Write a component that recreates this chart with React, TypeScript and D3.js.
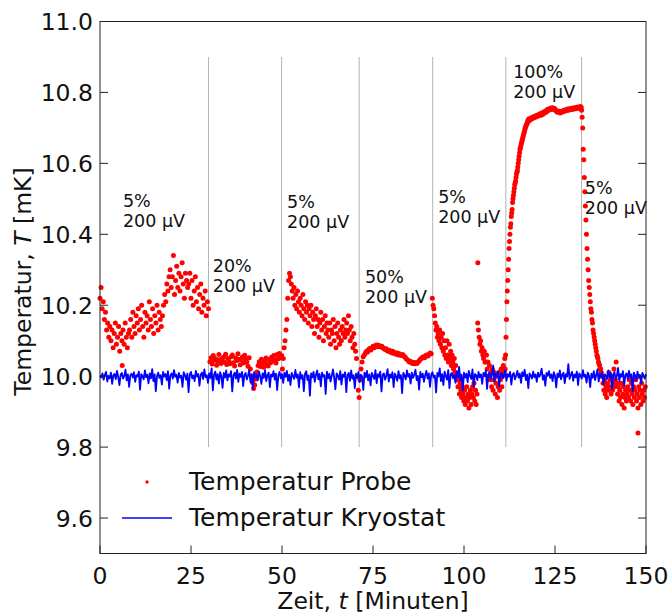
import React from 'react';
import * as d3 from 'd3';

// ---------- data ----------
const xTicks = [0, 25, 50, 75, 100, 125, 150];
const yTicks = [9.6, 9.8, 10.0, 10.2, 10.4, 10.6, 10.8, 11.0];
const xDomain = [0, 150];
const yDomain = [9.5, 11.0];

// switching times (minutes) of the heating phases
const phaseTimes = [29.8, 49.9, 71.2, 91.4, 111.5, 132.3];
const phaseLineRange = [9.8, 10.9];

// annotation labels: [time, temperature of first line, line1, line2]
const annotTimes = [6.3, 31.0, 51.4, 72.8, 92.9, 113.5, 133.2];
const annotTemps = [10.477, 10.294, 10.475, 10.263, 10.489, 10.842, 10.514];
const annotLine1 = ['5%', '20%', '5%', '50%', '5%', '100%', '5%'];
const annotLine2 = ['200 µV', '200 µV', '200 µV', '200 µV', '200 µV', '200 µV', '200 µV'];

// Probe temperature, segment time spans [start, end] (min), samples evenly spaced inside
const probeSpans = [
  [0, 29.8], [30.2, 49.9], [50.1, 71.2], [71.4, 91.0], [91.3, 111.2],
  [111.3, 117.9], [118.1, 132.2], [132.3, 137.85], [138.0, 149.8],
];
const probe1 = [
  10.22, 10.25, 10.19, 10.21,
  10.16, 10.18, 10.13, 10.15, 10.11, 10.14,
  10.10, 10.13, 10.08, 10.12, 10.15, 10.09, 10.11, 10.14, 10.07, 10.12, 10.10, 10.13, 10.09, 10.15, 10.11, 10.08, 10.12,
  10.13, 10.16, 10.11, 10.18, 10.14, 10.12, 10.17, 10.15, 10.19, 10.13, 10.16, 10.20, 10.14, 10.11, 10.18, 10.15, 10.17, 10.13, 10.21, 10.16, 10.14, 10.19, 10.12, 10.17, 10.15, 10.20, 10.13, 10.18, 10.16, 10.14,
  10.17, 10.20, 10.23, 10.21, 10.26, 10.24, 10.28,
  10.30, 10.25, 10.28, 10.34, 10.23, 10.27, 10.31, 10.25, 10.29, 10.24, 10.28, 10.32, 10.26, 10.22, 10.29, 10.27, 10.25,
  10.26, 10.29, 10.22, 10.27, 10.20, 10.24, 10.28, 10.21, 10.25, 10.19, 10.23, 10.26, 10.18, 10.22, 10.20, 10.24, 10.17, 10.21, 10.19,
];
const probe2 = [
  10.041, 10.052, 10.034, 10.058, 10.045, 10.049, 10.031, 10.043, 10.061, 10.047, 10.036, 10.044, 10.053, 10.039, 10.062, 10.033, 10.05, 10.042,
  10.035, 10.055, 10.06, 10.038, 10.029, 10.051, 10.044, 10.063, 10.048, 10.032, 10.046, 10.054, 10.037, 10.059, 10.047, 10.04, 10.028, 10.052,
  10.02, 10.0, 9.982, 9.965, 9.975, 9.992, 10.012,
  10.03, 10.041, 10.027, 10.048, 10.036, 10.025, 10.043, 10.051, 10.034, 10.029, 10.047, 10.038, 10.053, 10.042, 10.058, 10.046, 10.037, 10.061, 10.049, 10.064, 10.052, 10.058,
];
const probe3 = [
  10.02, 10.05, 10.08, 10.10, 10.13, 10.16, 10.22, 10.27,
  10.29, 10.28, 10.26, 10.24,
  10.22, 10.25, 10.20, 10.23, 10.19, 10.24, 10.21, 10.18, 10.22, 10.20, 10.17, 10.23, 10.19, 10.16, 10.21, 10.18, 10.20, 10.15, 10.19, 10.17,
  10.20, 10.14, 10.18, 10.16, 10.12, 10.17, 10.19, 10.14, 10.16, 10.11, 10.15, 10.18, 10.13, 10.16, 10.10, 10.14, 10.17, 10.12, 10.15, 10.13,
  10.11, 10.15, 10.09, 10.13, 10.12, 10.16, 10.10, 10.14, 10.08, 10.12, 10.15, 10.11, 10.09, 10.13, 10.10, 10.14, 10.12, 10.16, 10.11, 10.13,
  10.15, 10.12, 10.17, 10.13, 10.10, 10.14, 10.11, 10.08, 10.12, 10.09, 10.07, 10.05,
  10.00, 9.96, 9.94,
];
const probe4 = [
  9.99, 10.02, 10.04, 10.055,
  10.06, 10.065, 10.07, 10.068, 10.075, 10.078, 10.074, 10.08, 10.084, 10.08, 10.086, 10.088, 10.083, 10.087, 10.085, 10.082, 10.084, 10.08,
  10.078, 10.075, 10.077, 10.072, 10.07, 10.073, 10.068, 10.066, 10.07, 10.064, 10.066, 10.062, 10.065, 10.06, 10.063, 10.06, 10.058, 10.061, 10.056, 10.055,
  10.05, 10.047, 10.044, 10.04, 10.042, 10.038, 10.036, 10.039, 10.035, 10.038, 10.036, 10.04, 10.043,
  10.048, 10.05, 10.053, 10.055, 10.052, 10.058, 10.06, 10.057, 10.062, 10.065, 10.063,
];
const probe5 = [
  10.22, 10.20, 10.19, 10.17, 10.15, 10.13,
  10.14, 10.11, 10.12, 10.10, 10.13, 10.09, 10.11, 10.08, 10.12, 10.07, 10.10, 10.06,
  10.08, 10.05, 10.10, 10.06, 10.04, 10.09, 10.05, 10.07, 10.03, 10.06, 10.04, 10.02, 10.05, 10.01, 10.03, 9.99, 10.00, 9.97, 9.99, 9.95, 9.98, 9.96, 9.94, 9.97, 9.95,
  9.93, 9.96, 9.92, 9.94, 9.97, 9.93, 9.95, 9.91, 9.94, 9.96, 9.92, 9.95, 9.97, 9.94, 9.98,
  9.93, 9.96, 9.92, 9.95, 10.15,
  10.13, 10.11, 10.09, 10.10, 10.07, 10.08, 10.06, 10.05, 10.07, 10.04,
  10.04, 10.06, 10.02, 10.04, 10.00, 10.03, 9.99, 10.01, 9.97, 10.02, 9.96, 9.99, 10.01, 9.95, 9.98, 10.00, 9.94, 9.97, 10.01, 9.96, 9.99, 10.02, 9.97, 10.00, 10.03, 10.01, 10.05,
];
const probe6 = [
  10.02, 10.06, 10.11, 10.16, 10.21, 10.24, 10.27, 10.30, 10.33, 10.36, 10.38, 10.40, 10.42, 10.43, 10.45, 10.46,
  10.47, 10.49, 10.50, 10.51, 10.52, 10.53, 10.54, 10.545, 10.55, 10.56, 10.57, 10.575, 10.58, 10.59, 10.60, 10.61,
  10.62, 10.63, 10.64, 10.645, 10.65, 10.655, 10.66, 10.665, 10.67, 10.675, 10.68, 10.685, 10.69, 10.695, 10.70, 10.703,
  10.706, 10.71, 10.712, 10.715, 10.72, 10.722, 10.725, 10.72,
];
const probe7 = [
  10.722, 10.728, 10.725, 10.73, 10.728, 10.733, 10.73, 10.735,
  10.732, 10.737, 10.735, 10.74, 10.736, 10.742, 10.738, 10.745, 10.742, 10.748, 10.745, 10.752, 10.749, 10.754, 10.751, 10.756,
  10.753, 10.757, 10.752, 10.755, 10.75, 10.747, 10.744, 10.748, 10.745, 10.742, 10.746, 10.744, 10.748, 10.75, 10.747, 10.751,
  10.749, 10.753, 10.75, 10.754, 10.751, 10.755, 10.752, 10.756, 10.753, 10.757, 10.754, 10.758, 10.755, 10.759, 10.757, 10.76, 10.758,
];
const probe8 = [
  10.75, 10.73, 10.70, 10.64, 10.61, 10.56, 10.52, 10.48, 10.44, 10.40, 10.36, 10.33, 10.30, 10.27, 10.25, 10.23, 10.21, 10.19, 10.18,
  10.16, 10.15, 10.13, 10.12, 10.11, 10.10, 10.09, 10.08, 10.07, 10.06, 10.055, 10.05, 10.04, 10.035, 10.03, 10.02, 10.02, 10.01, 10.00,
];
const probe9 = [
  10.00, 9.98, 9.96, 9.99, 9.95, 9.97, 9.94, 9.98, 9.96, 10.01,
  9.97, 9.99, 9.95, 10.00, 9.96, 9.98, 10.02, 9.97, 9.99, 10.04,
  9.98, 9.95, 9.97, 9.93, 9.96, 9.94, 9.98, 9.92, 9.95, 9.97, 9.91, 9.94, 9.96, 9.93, 9.95,
  9.97, 9.94, 9.99, 9.96, 9.93, 9.98, 9.95, 9.92, 9.97, 9.94, 9.96, 9.99, 9.93, 9.95, 9.91, 9.97, 9.94, 9.96, 9.92, 9.98, 9.95, 9.93, 9.96, 9.94, 9.97,
];
const probeOutlierTimes = [6.1, 103.8, 147.8];
const probeOutlierTemps = [10.03, 10.32, 9.84];

// Kryostat temperature, sampled every 1/3 min from 0 to 150
const kryoSpan = [0, 150];
const kryo = [
  10.002, 9.996, 10.008, 9.990, 10.004, 10.012, 9.985, 10.001, 9.994, 10.010, 9.978, 10.003, 10.006, 9.992, 10.015,
  9.998, 9.975, 10.004, 10.009, 9.993, 10.001, 10.018, 9.988, 10.005, 9.970, 10.002, 10.007, 9.996, 10.011, 9.984,
  10.003, 9.999, 10.013, 9.962, 10.006, 10.000, 9.991, 10.016, 9.997, 10.004, 9.980, 10.008, 9.994, 10.020, 9.986,
  10.005, 9.958, 10.001, 10.010, 9.995, 10.003, 9.976, 10.012, 9.999, 10.006, 9.989, 10.014, 9.965, 10.002, 10.008,
  9.993, 10.017, 9.998, 10.004, 9.982, 10.009, 9.996, 10.001, 9.970, 10.011, 10.003, 9.990, 10.007, 9.955, 10.005,
  10.012, 9.994, 10.002, 9.986, 10.015, 9.999, 10.006, 9.973, 10.004, 10.010, 9.992, 10.019, 9.997, 10.003, 9.981,
  10.008, 9.995, 10.022, 9.960, 10.004, 10.013, 9.990, 10.006, 9.979, 10.011, 10.001, 9.967, 10.009, 9.996, 10.016,
  9.988, 10.005, 9.999, 10.014, 9.957, 10.003, 10.010, 9.993, 10.018, 9.984, 10.007, 9.998, 10.012, 9.972, 10.004,
  10.009, 9.991, 10.002, 10.016, 9.983, 10.006, 9.964, 10.011, 9.997, 10.004, 9.988, 10.013, 10.000, 9.978, 10.008,
  9.995, 10.017, 9.986, 10.003, 10.010, 9.969, 10.005, 9.999, 10.014, 9.990, 10.007, 9.961, 10.002, 10.012, 9.994,
  10.006, 9.981, 10.010, 9.998, 10.015, 9.987, 10.004, 9.975, 10.009, 10.001, 9.992, 10.018, 9.996, 10.005, 9.968,
  10.011, 9.993, 10.003, 9.958, 10.007, 10.014, 9.989, 10.002, 9.945, 10.008, 9.997, 10.012, 9.984, 10.004, 10.016,
  9.991, 10.006, 9.971, 10.010, 9.999, 10.003, 9.950, 10.013, 9.994, 10.007, 9.985, 10.001, 10.019, 9.996, 9.963,
  10.008, 10.002, 9.990, 10.014, 9.976, 10.005, 9.998, 10.011, 9.955, 10.004, 10.009, 9.987, 10.016, 9.993, 10.003,
  9.966, 10.007, 9.995, 10.012, 9.983, 10.004, 10.000, 9.961, 10.010, 9.997, 10.015, 9.988, 10.005, 9.974, 10.009,
  10.001, 9.992, 10.017, 9.980, 10.006, 9.998, 10.013, 9.957, 10.004, 10.008, 9.990, 10.002, 10.020, 9.985, 10.005,
  9.996, 10.011, 9.969, 10.007, 10.000, 9.987, 10.014, 9.994, 10.003, 9.952, 10.009, 10.002, 9.991, 10.016, 9.998,
  10.006, 9.979, 10.010, 9.995, 10.004, 10.018, 9.989, 10.001, 9.962, 10.012, 9.997, 10.007, 9.984, 10.003, 10.015,
  9.993, 10.008, 9.970, 10.004, 10.011, 9.996, 10.002, 9.954, 10.009, 9.999, 10.022, 9.986, 10.006, 9.975, 10.013,
  10.001, 9.990, 10.017, 9.966, 10.005, 10.009, 9.994, 10.003, 9.981, 10.014, 9.998, 10.026, 9.988, 10.004, 9.960,
  10.010, 9.996, 10.007, 9.983, 10.015, 10.001, 9.992, 10.019, 9.970, 10.006, 10.003, 9.989, 10.012, 9.997, 10.005,
  9.978, 10.009, 10.000, 10.016, 9.964, 10.004, 10.011, 9.993, 10.002, 10.030, 9.985, 10.007, 9.998, 10.013, 9.972,
  10.005, 10.010, 9.994, 10.003, 10.017, 9.987, 10.006, 9.999, 10.012, 9.976, 10.004, 10.009, 9.991, 10.002, 10.015,
  9.996, 10.007, 9.981, 10.011, 10.000, 10.018, 9.989, 10.004, 9.966, 10.008, 10.002, 9.993, 10.013, 9.997, 10.005,
  9.984, 10.010, 9.998, 10.006, 10.021, 9.990, 10.003, 9.973, 10.009, 10.001, 10.014, 9.995, 10.005, 9.986, 10.011,
  10.002, 9.968, 10.007, 9.997, 10.016, 9.991, 10.004, 10.010, 9.980, 10.006, 9.999, 10.034, 9.992, 10.003, 10.012,
  9.987, 10.005, 9.997, 10.013, 9.975, 10.008, 10.002, 9.993, 10.017, 9.998, 10.004, 9.982, 10.010, 10.001, 9.969,
  10.007, 9.995, 10.014, 9.989, 10.003, 10.019, 9.985, 10.006, 9.998, 10.011, 9.977, 10.005, 10.002, 9.992, 10.016,
  9.996, 10.009, 9.963, 10.004, 10.012, 9.990, 10.001, 10.023, 9.986, 10.006, 9.999, 10.014, 9.974, 10.003, 10.008,
  9.992, 10.015, 9.997, 10.005, 9.958, 10.010, 10.002, 9.988, 10.013, 9.995, 10.004, 9.979, 10.009, 10.001, 9.993,
  10.006,
];

const legendLabels = ['Temperatur Probe', 'Temperatur Kryostat'];

// ---------- layout ----------
const W = 668;
const H = 615;
const M = { left: 100, right: 22, top: 21.5, bottom: 61.5 };
const FONT = '"DejaVu Sans", sans-serif';
const TXT = '#111';

function spread(span: number[], values: number[]) {
  const n = values.length;
  const dt = n > 1 ? (span[1] - span[0]) / (n - 1) : 0;
  return values.map((v, i) => ({ t: span[0] + i * dt, v }));
}

export default function App() {
  const x = d3.scaleLinear().domain(xDomain).range([M.left, W - M.right]);
  const y = d3.scaleLinear().domain(yDomain).range([H - M.bottom, M.top]);

  const probeSegs = [probe1, probe2, probe3, probe4, probe5, probe6, probe7, probe8, probe9];
  const probePts = probeSegs.flatMap((vals, i) => spread(probeSpans[i], vals));
  probeOutlierTimes.forEach((t, i) => probePts.push({ t, v: probeOutlierTemps[i] }));

  const kryoPts = spread(kryoSpan, kryo);
  const line = d3.line<{ t: number; v: number }>().x((d) => x(d.t)).y((d) => y(d.v));

  const x0 = x(xDomain[0]);
  const x1 = x(xDomain[1]);
  const y0 = y(yDomain[0]);
  const y1 = y(yDomain[1]);
  const tickLen = 8;

  return (
    <svg width={W} height={H} style={{ position: 'absolute', left: 0, top: 0, background: '#fff' }} fontFamily={FONT}>
      <rect x={0} y={0} width={W} height={H} fill="#fff" />
      {/* phase lines */}
      {phaseTimes.map((t, i) => (
        <line key={'p' + i} x1={x(t)} x2={x(t)} y1={y(phaseLineRange[0])} y2={y(phaseLineRange[1])} stroke="#b3b3b3" strokeWidth={1} />
      ))}
      {/* probe dots */}
      <g fill="#ff0000">
        {probePts.map((d, i) => (
          <circle key={'r' + i} cx={x(d.t)} cy={y(d.v)} r={2.5} />
        ))}
      </g>
      {/* kryostat line */}
      <path d={line(kryoPts) || ''} fill="none" stroke="#0000ff" strokeWidth={1.8} strokeLinejoin="round" />

      {/* annotations */}
      {annotTimes.map((t, i) => (
        <text key={'a' + i} x={x(t)} y={y(annotTemps[i])} fontSize={17.5} fill={TXT}>
          <tspan x={x(t)}>{annotLine1[i]}</tspan>
          <tspan x={x(t)} dy={20}>{annotLine2[i]}</tspan>
        </text>
      ))}

      {/* spines */}
      <rect x={x0} y={y1} width={x1 - x0} height={y0 - y1} fill="none" stroke="#222" strokeWidth={1} />

      {/* y ticks (left and right, inward) */}
      {yTicks.map((v) => (
        <g key={'y' + v}>
          <line x1={x0} x2={x0 + tickLen} y1={y(v)} y2={y(v)} stroke="#222" strokeWidth={1} />
          <line x1={x1} x2={x1 - tickLen} y1={y(v)} y2={y(v)} stroke="#222" strokeWidth={1} />
          <text x={x0 - 7} y={y(v) + 8.5} textAnchor="end" fontSize={23.5} fill={TXT}>
            {d3.format('.1f')(v)}
          </text>
        </g>
      ))}
      {/* x ticks (bottom, inward) */}
      {xTicks.map((v) => (
        <g key={'x' + v}>
          <line x1={x(v)} x2={x(v)} y1={y0} y2={y0 - tickLen} stroke="#222" strokeWidth={1} />
          <text x={x(v)} y={y0 + 30} textAnchor="middle" fontSize={23.5} fill={TXT}>
            {v}
          </text>
        </g>
      ))}

      {/* axis labels */}
      <text x={(x0 + x1) / 2} y={609} textAnchor="middle" fontSize={23.5} fill={TXT}>
        Zeit, <tspan fontStyle="italic">t</tspan> [Minuten]
      </text>
      <text
        transform={`translate(31, ${(y0 + y1) / 2 - 6}) rotate(-90)`}
        textAnchor="middle"
        fontSize={23.5}
        fill={TXT}
      >
        Temperatur, <tspan fontStyle="italic">T</tspan> [mK]
      </text>

      {/* legend */}
      <circle cx={147} cy={482} r={1.7} fill="#ff0000" />
      <text x={189} y={490} fontSize={25} fill={TXT}>{legendLabels[0]}</text>
      <line x1={122} x2={172} y1={518} y2={518} stroke="#0000ff" strokeWidth={1.4} />
      <text x={189} y={526} fontSize={25} fill={TXT}>{legendLabels[1]}</text>
    </svg>
  );
}
